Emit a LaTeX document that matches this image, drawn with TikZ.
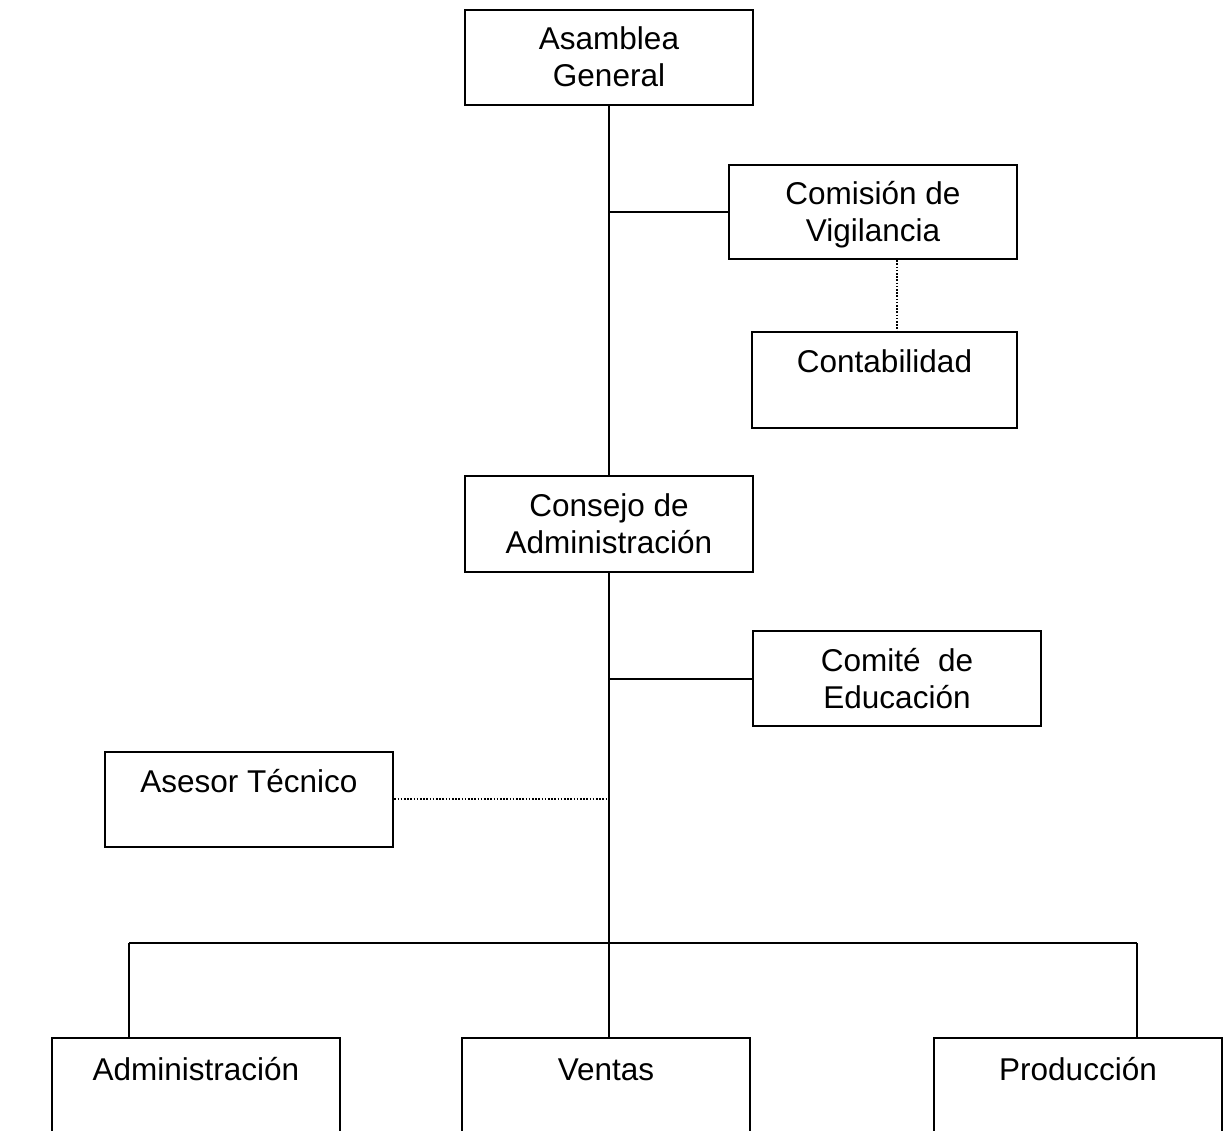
\documentclass[tikz,border=0pt]{standalone}
\usepackage{fontspec}
\setmainfont{Liberation Sans}
\newcommand\lnst{\rule[-7.5pt]{0pt}{37pt}}
\begin{document}
\begin{tikzpicture}[x=1pt,y=-1pt,
  box/.style={draw=black,line width=2.6pt,rectangle,inner sep=0pt,align=center,
    font=\fontsize{31.5}{37}\selectfont},
  solidline/.style={draw=black,line width=2.6pt},
  dotline/.style={draw=black,line width=2.4pt,dash pattern=on 1.6pt off 1.6pt}]
\useasboundingbox (0,0) rectangle (1223,1131);
\clip (0,0) rectangle (1223,1131);
\node[box,minimum width=288pt,minimum height=95pt] (AG) at (609,57.5) {\lnst Asamblea\\\lnst General};
\node[box,minimum width=288pt,minimum height=94pt] (CV) at (873,212) {\lnst Comisión de\\\lnst Vigilancia};
\node[box,minimum width=265pt,minimum height=96pt] (CT) at (884.5,380) {\lnst Contabilidad\\\lnst};
\node[box,minimum width=288pt,minimum height=96pt] (CA) at (609,524) {\lnst Consejo de\\\lnst Administración};
\node[box,minimum width=288pt,minimum height=95pt] (CE) at (897,678.5) {\lnst Comité\ \ de\\\lnst Educación};
\node[box,minimum width=288pt,minimum height=95pt] (AT) at (249,799.5) {\lnst Asesor Técnico\\\lnst};
\node[box,minimum width=288pt,minimum height=99pt] (AD) at (196,1087.5) {\lnst Administración\\\lnst};
\node[box,minimum width=288pt,minimum height=99pt] (VE) at (606,1087.5) {\lnst Ventas\\\lnst};
\node[box,minimum width=288pt,minimum height=99pt] (PR) at (1078,1087.5) {\lnst Producción\\\lnst};
\coordinate (bus) at (609,943);
\coordinate (busL) at (129,943);
\coordinate (busR) at (1137,943);
\coordinate (jCV) at (609,212);
\coordinate (jCE) at (609,679);
\coordinate (jAT) at (609,799);
% main trunk
\draw[solidline] (AG.south) -- (CA.north);
\draw[solidline] (CA.south) -- (bus) -- (bus |- VE.north);
\draw[solidline] (jCV) -- (CV.west |- jCV);
\draw[solidline] (jCE) -- (CE.west |- jCE);
\draw[dotline] (AT.east |- jAT) -- (jAT);
\draw[dotline] (CV.south -| 897,0) -- (CT.north -| 897,0);
% bus
\draw[solidline] (busL) -- (busR);
\draw[solidline] (busL) -- (busL |- AD.north);
\draw[solidline] (busR) -- (busR |- PR.north);
\end{tikzpicture}
\end{document}
